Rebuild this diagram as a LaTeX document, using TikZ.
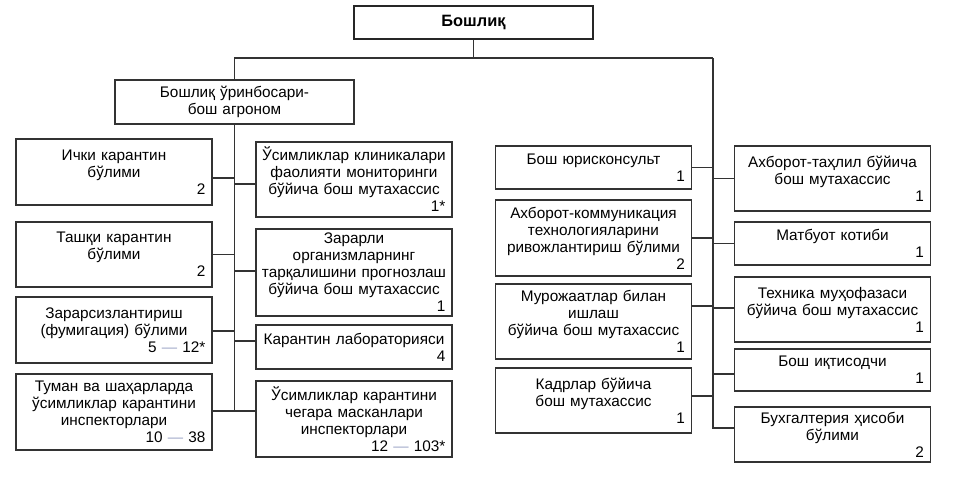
\documentclass[tikz,border=0pt]{standalone}
\usepackage{fontspec}
\setmainfont{Liberation Sans}
\usepackage{tikz}
\definecolor{dashc}{RGB}{160,168,200}
\newcommand{\numl}[1]{\\\mbox{}\hfill #1\kern3pt}
\newcommand{\dsh}{ \textcolor{dashc}{—} }

\begin{document}
\begin{tikzpicture}[x=0.75pt,y=-0.75pt]
\tikzstyle{boxi}=[rectangle,draw=black!80,line width=0.8pt,inner xsep=2pt,inner ysep=1pt,minimum width=147pt,text width=143pt,align=center,font=\fontsize{11.5}{12.75}\selectfont]
\tikzstyle{head}=[rectangle,draw=black!85,line width=1.4pt,minimum width=179.25pt,minimum height=24.75pt,font=\fontsize{12.3}{14}\selectfont\bfseries]
\tikzstyle{link}=[draw=black!80,line width=0.9pt]
\useasboundingbox (0,0) rectangle (958,476);
\node [head] (chief) at (473.5,22.5) {Бошлиқ};
\node [boxi,minimum width=179.25pt,text width=175pt,minimum height=33pt] (deputy) at (234.5,102) {Бошлиқ ўринбосари-\\бош агроном};
\node [boxi,minimum height=49.5pt] (ichki) at (114,172) {Ички карантин\\бўлими\numl{2}};
\node [boxi,minimum height=48.75pt] (tashqi) at (114,254.5) {Ташқи карантин\\бўлими\numl{2}};
\node [boxi,minimum height=49.5pt] (zarar) at (114,330) {Зарарсизлантириш\\(фумигация) бўлими\numl{5\dsh 12*}};
\node [boxi,minimum height=57pt] (tuman) at (114,412) {Туман ва шаҳарларда\\ўсимликлар карантини\\инспекторлари\numl{10\dsh 38}};
\node [boxi,minimum height=56.25pt] (klinika) at (354,179.5) {Ўсимликлар клиникалари\\фаолияти мониторинги\\бўйича бош мутахассис\numl{1*}};
\node [boxi,minimum height=65.25pt] (prognoz) at (354,272.5) {Зарарли\\организмларнинг\\тарқалишини прогнозлаш\\бўйича бош мутахассис\numl{1}};
\node [boxi,minimum height=33pt] (lab) at (354,347) {Карантин лабораторияси\numl{4}};
\node [boxi,minimum height=57pt] (chegara) at (354,419) {Ўсимликлар карантини\\чегара масканлари\\инспекторлари\numl{12\dsh 103*}};
\node [boxi,minimum height=32.25pt] (yurist) at (593.5,167.5) {Бош юрисконсульт\numl{1}};
\node [boxi,minimum height=57pt] (akt) at (593.5,238) {Ахборот-коммуникация\\технологияларини\\ривожлантириш бўлими\numl{2}};
\node [boxi,minimum height=56.25pt] (murojaat) at (593.5,321.5) {Мурожаатлар билан\\ишлаш\\бўйича бош мутахассис\numl{1}};
\node [boxi,minimum height=48.75pt] (kadr) at (593.5,400.5) {Кадрлар бўйича\\бош мутахассис\numl{1}};
\node [boxi,minimum height=48.75pt] (tahlil) at (832.5,178.5) {Ахборот-таҳлил бўйича\\бош мутахассис\numl{1}};
\node [boxi,minimum height=32.25pt] (matbuot) at (832.5,243.5) {Матбуот котиби\numl{1}};
\node [boxi,minimum height=48.75pt] (texnika) at (832.5,309.5) {Техника муҳофазаси\\бўйича бош мутахассис\numl{1}};
\node [boxi,minimum height=31.5pt] (iqtisod) at (832.5,370) {Бош иқтисодчи\numl{1}};
\node [boxi,minimum height=41.25pt] (buxgalter) at (832.5,434.5) {Бухгалтерия ҳисоби\\бўлими\numl{2}};
\coordinate (jr) at (713,58);
\coordinate (jl) at (deputy.north |- jr);
\draw [link] (chief.south) |- (jr);
\draw [link] (chief.south) |- (jl) -- (deputy.north);
\draw [link] ([yshift=-4.5pt]ichki.east) -| (deputy.south);
\draw [link] (tashqi.east) -| (deputy.south);
\draw [link] ([yshift=-0.75pt]zarar.east) -| (deputy.south);
\draw [link] ([yshift=0.75pt]tuman.east) -| (deputy.south);
\draw [link] ([yshift=-3.4pt]klinika.west) -| (deputy.south);
\draw [link] ([yshift=1.1pt]prognoz.west) -| (deputy.south);
\draw [link] ([yshift=4.5pt]lab.west) -| (deputy.south);
\draw [link] ([yshift=6pt]chegara.west) -| (deputy.south);
\draw [link] (yurist.east) -| (jr);
\draw [link] (akt.east) -| (jr);
\draw [link] ([yshift=11.6pt]murojaat.east) -| (jr);
\draw [link] ([yshift=3.4pt]kadr.east) -| (jr);
\draw [link] (tahlil.west) -| (jr);
\draw [link] (matbuot.west) -| (jr);
\draw [link] ([yshift=1.1pt]texnika.west) -| (jr);
\draw [link] ([yshift=-3pt]iqtisod.west) -| (jr);
\draw [link] ([yshift=4.9pt]buxgalter.west) -| (jr);
\end{tikzpicture}
\end{document}
